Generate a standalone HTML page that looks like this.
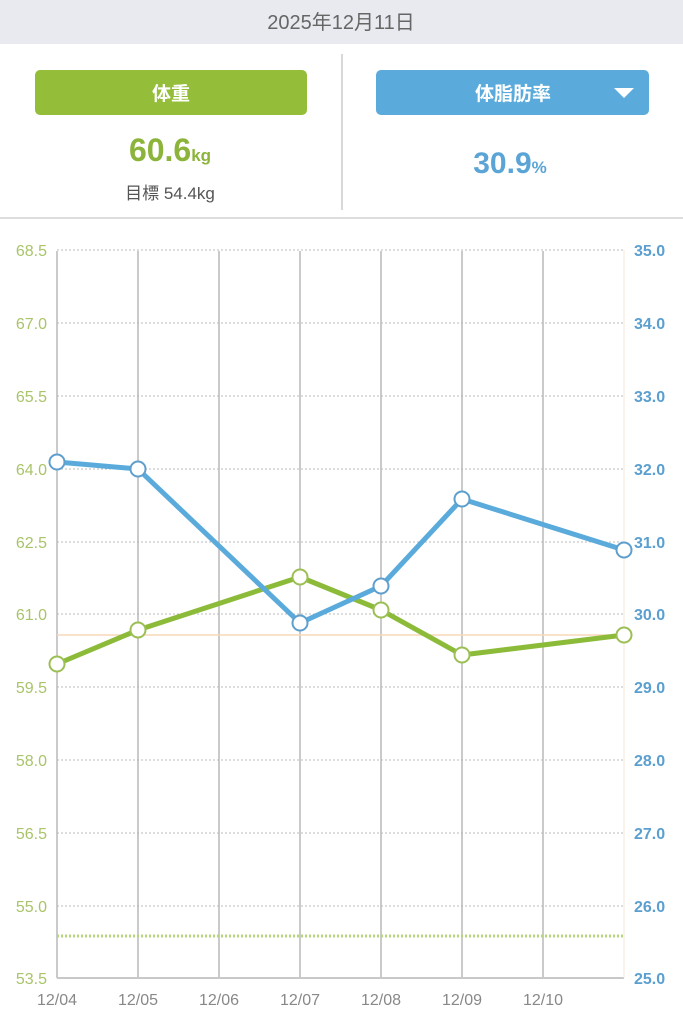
<!DOCTYPE html>
<html><head><meta charset="utf-8"><style>
body{margin:0;width:683px;height:1024px;background:#fff;overflow:hidden;font-family:"Liberation Sans","Noto Sans CJK JP",sans-serif}
</style></head><body>
<svg width="683" height="1024" xmlns="http://www.w3.org/2000/svg" style="position:absolute;left:0;top:0">
<rect x="0" y="0" width="683" height="44" fill="#e9eaf0"/>
<text x="341" y="29" text-anchor="middle" font-size="20" fill="#666" font-family="Liberation Sans,Noto Sans CJK JP,sans-serif">2025年12月11日</text>
<rect x="35" y="70" width="272" height="45" rx="5" fill="#94bd3a"/>
<text x="171" y="100" text-anchor="middle" font-size="19" font-weight="bold" fill="#fff" font-family="Liberation Sans,Noto Sans CJK JP,sans-serif">体重</text>
<rect x="376" y="70" width="273" height="45" rx="5" fill="#5aabdb"/>
<text x="513" y="100" text-anchor="middle" font-size="19" font-weight="bold" fill="#fff" font-family="Liberation Sans,Noto Sans CJK JP,sans-serif">体脂肪率</text>
<polygon points="614,88 634,88 624,98" fill="#fff"/>
<line x1="342" y1="54" x2="342" y2="210" stroke="#ccc" stroke-width="1.5"/>
<text x="170" y="161" text-anchor="middle" fill="#8cb43a" font-weight="bold" font-family="Liberation Sans,sans-serif"><tspan font-size="32">60.6</tspan><tspan font-size="17">kg</tspan></text>
<text x="170" y="199" text-anchor="middle" font-size="17" fill="#555" font-family="Liberation Sans,Noto Sans CJK JP,sans-serif">目標 54.4kg</text>
<text x="510" y="173" text-anchor="middle" fill="#5aa5d6" font-weight="bold" font-family="Liberation Sans,sans-serif"><tspan font-size="30">30.9</tspan><tspan font-size="17">%</tspan></text>
<line x1="0" y1="218" x2="683" y2="218" stroke="#ddd" stroke-width="2"/>
<g stroke="#bbb" stroke-width="1" stroke-dasharray="2,2">
<line x1="57" y1="250" x2="624" y2="250"/><line x1="57" y1="323" x2="624" y2="323"/><line x1="57" y1="396" x2="624" y2="396"/><line x1="57" y1="469" x2="624" y2="469"/><line x1="57" y1="542" x2="624" y2="542"/><line x1="57" y1="614" x2="624" y2="614"/><line x1="57" y1="687" x2="624" y2="687"/><line x1="57" y1="760" x2="624" y2="760"/><line x1="57" y1="833" x2="624" y2="833"/><line x1="57" y1="906" x2="624" y2="906"/>
</g>
<g stroke="#b8b8b8" stroke-width="1.5">
<line x1="57" y1="251" x2="57" y2="978"/><line x1="138" y1="251" x2="138" y2="978"/><line x1="219" y1="251" x2="219" y2="978"/><line x1="300" y1="251" x2="300" y2="978"/><line x1="381" y1="251" x2="381" y2="978"/><line x1="462" y1="251" x2="462" y2="978"/><line x1="543" y1="251" x2="543" y2="978"/>
</g>
<line x1="57" y1="978" x2="624" y2="978" stroke="#c8c8c8" stroke-width="2"/>
<line x1="624" y1="250" x2="624" y2="978" stroke="#f6e8d8" stroke-width="1"/>
<line x1="57" y1="635" x2="624" y2="635" stroke="#f7d7b8" stroke-width="1.5"/>
<line x1="57" y1="936" x2="624" y2="936" stroke="#b6d67a" stroke-width="3" stroke-dasharray="2,2"/>
<g font-size="16" fill="#a9c46a" text-anchor="end" font-family="Liberation Sans,sans-serif">
<text x="47" y="256">68.5</text><text x="47" y="329">67.0</text><text x="47" y="402">65.5</text><text x="47" y="475">64.0</text><text x="47" y="548">62.5</text><text x="47" y="620">61.0</text><text x="47" y="693">59.5</text><text x="47" y="766">58.0</text><text x="47" y="839">56.5</text><text x="47" y="912">55.0</text><text x="47" y="984">53.5</text>
</g>
<g font-size="16" fill="#5a9fcf" font-weight="bold" font-family="Liberation Sans,sans-serif">
<text x="634" y="256">35.0</text><text x="634" y="329">34.0</text><text x="634" y="402">33.0</text><text x="634" y="475">32.0</text><text x="634" y="548">31.0</text><text x="634" y="620">30.0</text><text x="634" y="693">29.0</text><text x="634" y="766">28.0</text><text x="634" y="839">27.0</text><text x="634" y="912">26.0</text><text x="634" y="984">25.0</text>
</g>
<g font-size="16" fill="#888" text-anchor="middle" font-family="Liberation Sans,sans-serif">
<text x="57" y="1005">12/04</text><text x="138" y="1005">12/05</text><text x="219" y="1005">12/06</text><text x="300" y="1005">12/07</text><text x="381" y="1005">12/08</text><text x="462" y="1005">12/09</text><text x="543" y="1005">12/10</text>
</g>
<polyline points="57,664 138,630 300,577 381,610 462,655 624,635" fill="none" stroke="#8cbb3a" stroke-width="5" stroke-linejoin="round"/>
<polyline points="57,462 138,469 300,623 381,586 462,499 624,550" fill="none" stroke="#5aabdb" stroke-width="5" stroke-linejoin="round"/>
<g fill="#fff" stroke="#9cbf55" stroke-width="2">
<circle cx="57" cy="664" r="7.5"/><circle cx="138" cy="630" r="7.5"/><circle cx="300" cy="577" r="7.5"/><circle cx="381" cy="610" r="7.5"/><circle cx="462" cy="655" r="7.5"/><circle cx="624" cy="635" r="7.5"/>
</g>
<g fill="#fff" stroke="#5f9fce" stroke-width="2">
<circle cx="57" cy="462" r="7.5"/><circle cx="138" cy="469" r="7.5"/><circle cx="300" cy="623" r="7.5"/><circle cx="381" cy="586" r="7.5"/><circle cx="462" cy="499" r="7.5"/><circle cx="624" cy="550" r="7.5"/>
</g>
</svg>
</body></html>
